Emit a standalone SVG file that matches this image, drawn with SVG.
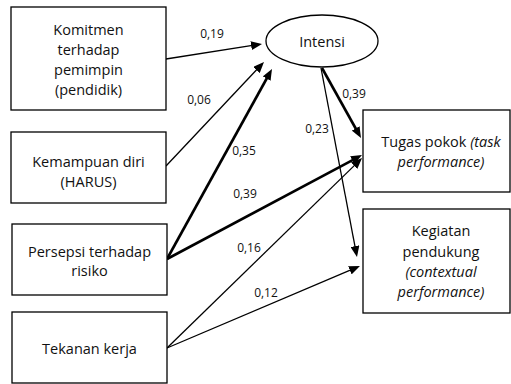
<svg xmlns="http://www.w3.org/2000/svg" width="511" height="384" viewBox="0 0 511 384">
  <style>
    .box { fill: #ffffff; stroke: #000000; stroke-width: 1.3; }
    .t { font-family: "Open Sans", "Liberation Sans", sans-serif; font-size: 14.5px; fill: #111111; text-anchor: middle; }
    .lbl { font-family: "Open Sans", "Liberation Sans", sans-serif; font-size: 12px; fill: #111111; text-anchor: middle; }
    .it { font-style: italic; }
    .thin { fill: none; stroke: #000000; stroke-width: 1.3; marker-end: url(#head); }
    .thick { fill: none; stroke: #000000; stroke-width: 2.6; marker-end: url(#head); }
  </style>
  <defs>
    <marker id="head" viewBox="0 0 11 9" markerWidth="11" markerHeight="9" refX="3" refY="4.5" orient="auto" markerUnits="userSpaceOnUse">
      <path d="M0,0 L11,4.5 L0,9 z" fill="#000000"/>
    </marker>
  </defs>
  <rect width="511" height="384" fill="#ffffff"/>

  <g id="connectors">
    <line class="thin" x1="166" y1="59" x2="254.1" y2="45.2"/>
    <line class="thin" x1="166" y1="166" x2="258.5" y2="67.8"/>
    <line class="thick" x1="167" y1="259" x2="268.1" y2="76.0"/>
    <line class="thick" x1="167" y1="259" x2="354.9" y2="158.8"/>
    <line class="thin" x1="167" y1="348" x2="356.3" y2="163.6"/>
    <line class="thin" x1="167" y1="348" x2="352.6" y2="269.1"/>
    <line class="thick" x1="322" y1="68" x2="357.1" y2="131.0"/>
    <line class="thin" x1="321" y1="68" x2="355.5" y2="249.1"/>
    <text class="lbl" x="212" y="37.5">0,19</text>
    <text class="lbl" x="199" y="103.5">0,06</text>
    <text class="lbl" x="244" y="155">0,35</text>
    <text class="lbl" x="245" y="198">0,39</text>
    <text class="lbl" x="249" y="251.5">0,16</text>
    <text class="lbl" x="266" y="296.5">0,12</text>
    <text class="lbl" x="354" y="97.5">0,39</text>
    <text class="lbl" x="317" y="132.5">0,23</text>
  </g>

  <g id="komitmen">
    <rect class="box" x="11" y="7" width="155" height="103"/>
    <text class="t" x="88.5" y="35">Komitmen</text>
    <text class="t" x="88.5" y="55">terhadap</text>
    <text class="t" x="88.5" y="75">pemimpin</text>
    <text class="t" x="88.5" y="95">(pendidik)</text>
  </g>

  <g id="kemampuan">
    <rect class="box" x="11" y="132" width="155" height="71"/>
    <text class="t" x="88.5" y="166.5">Kemampuan diri</text>
    <text class="t" x="88.5" y="186.5">(HARUS)</text>
  </g>

  <g id="persepsi">
    <rect class="box" x="12" y="224" width="155" height="71"/>
    <text class="t" x="89.5" y="256.5">Persepsi terhadap</text>
    <text class="t" x="89.5" y="276">risiko</text>
  </g>

  <g id="tekanan">
    <rect class="box" x="12" y="312" width="155" height="71"/>
    <text class="t" x="89.5" y="354">Tekanan kerja</text>
  </g>

  <g id="intensi">
    <ellipse class="box" cx="322" cy="41" rx="56" ry="26"/>
    <text class="t" x="322" y="46.5">Intensi</text>
  </g>

  <g id="tugas">
    <rect class="box" x="363" y="110" width="147" height="82"/>
    <text class="t" x="441" y="146.5">Tugas pokok <tspan class="it">(task</tspan></text>
    <text class="t it" x="441" y="167">performance)</text>
  </g>

  <g id="kegiatan">
    <rect class="box" x="363" y="209" width="147" height="104"/>
    <text class="t" x="441" y="236">Kegiatan</text>
    <text class="t" x="441" y="256.5">pendukung</text>
    <text class="t it" x="441" y="277">(contextual</text>
    <text class="t it" x="441" y="297">performance)</text>
  </g>
</svg>
